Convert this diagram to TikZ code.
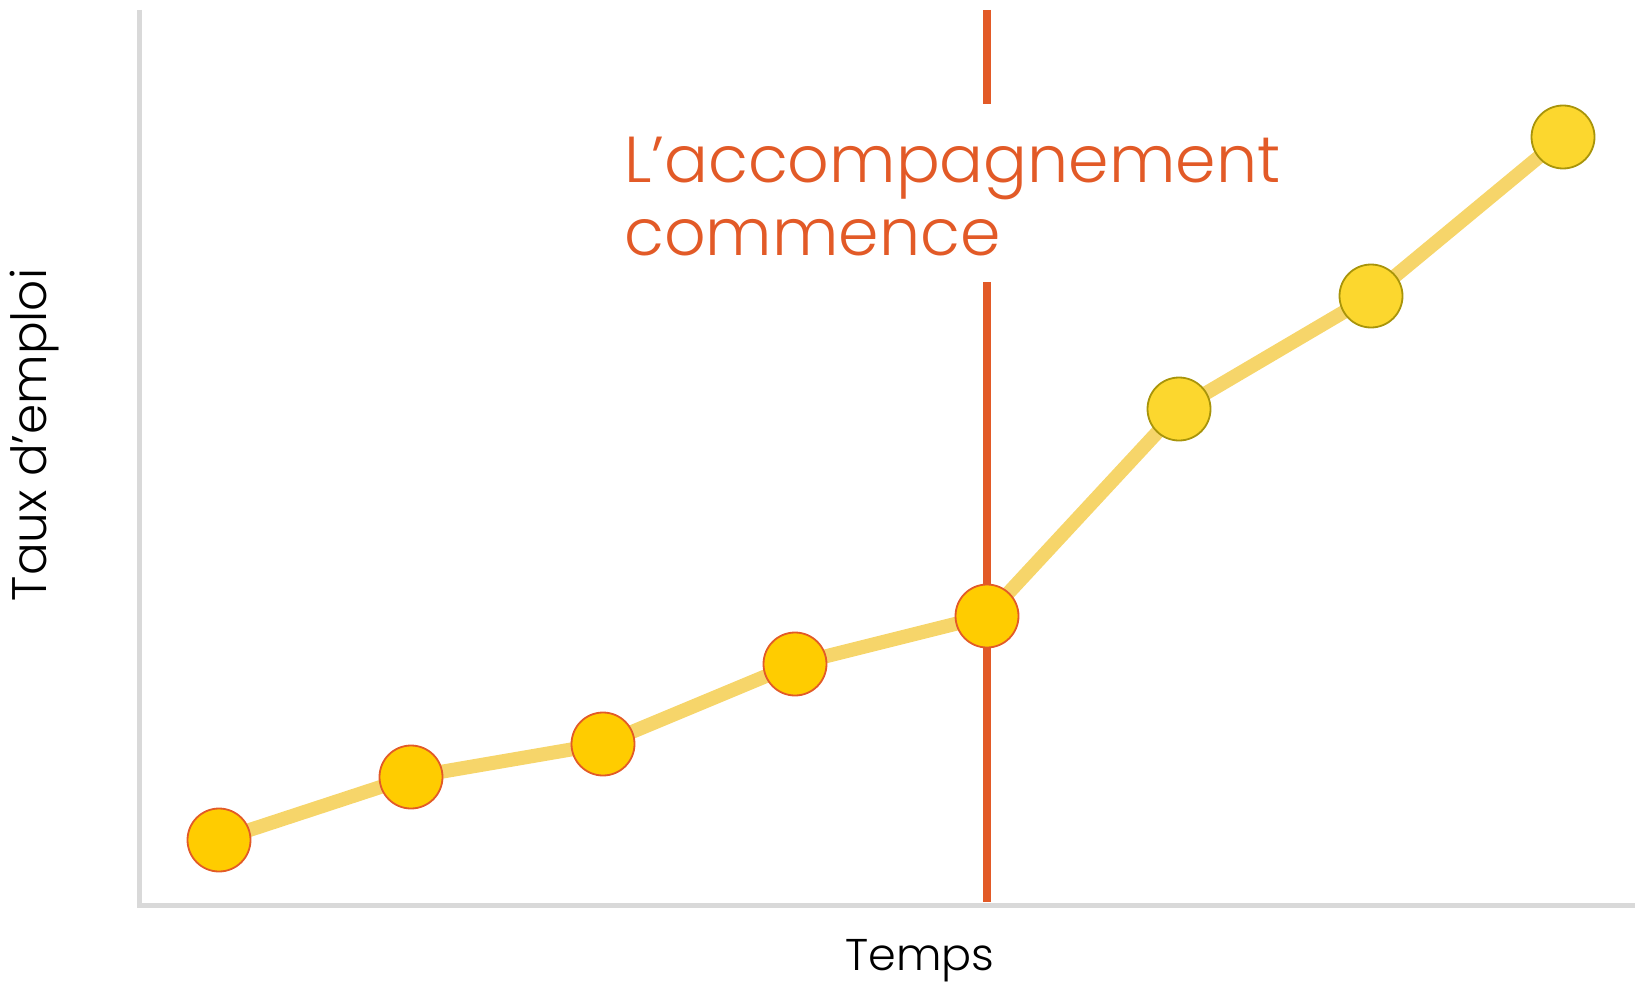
\documentclass[tikz,border=0pt]{standalone}
\usepackage{fontspec}
\setmainfont{Poppins Light}
\usetikzlibrary{positioning,backgrounds}

\definecolor{axisgrey}{HTML}{D9D9D9}
\definecolor{startline}{HTML}{E25A27}
\definecolor{curveyellow}{HTML}{F6D56A}
\definecolor{dotbefore}{HTML}{FFCC00}
\definecolor{dotafter}{HTML}{FCD72E}
\definecolor{dotafterrim}{HTML}{A8940A}

\begin{document}
\begin{tikzpicture}[x=1pt,y=-1pt,
    before/.style={circle,draw=startline,line width=1.8pt,fill=dotbefore,
                   minimum size=63pt,inner sep=0pt},
    after/.style={circle,draw=dotafterrim,line width=1.8pt,fill=dotafter,
                  minimum size=63pt,inner sep=0pt},
    curve/.style={curveyellow,line width=14pt,line join=round},
    axis/.style={axisgrey,line width=5pt},
    startmark/.style={startline,line width=7.5pt}]
%
  \useasboundingbox (0,0) rectangle (1635,987);
%
  \node (d1) [before] at (219,840) {};
  \node (d2) [before] at (411,777) {};
  \node (d3) [before] at (603,744) {};
  \node (d4) [before] at (795,664) {};
  \node (d5) [before] at (987,616) {};
  \node (d6) [after]  at (1179,409) {};
  \node (d7) [after]  at (1371,296) {};
  \node (d8) [after]  at (1563,137) {};
%
  \coordinate (ytop)   at (139,10) ;
  \coordinate (origin) at (139,905) ;
  \coordinate (xend)   at (1635,905) ;
%
  \coordinate (mark top)  at (987,10) ;
  \coordinate (mark gap1) at (987,104) ;
  \coordinate (mark gap2) at (987,282) ;
  \coordinate (mark foot) at (987,902) ;
%
  \node (start label) [anchor=base west,align=left,text=startline,inner sep=0pt,
        font=\fontsize{65}{73}\selectfont] at (624,255)
        {L’accompagnement\\commence} ;
%
  \node (rate label) [rotate=90,font=\fontsize{48.5}{58}\selectfont] at (35,435) {Taux d’emploi} ;
  \node (time label) [anchor=base,inner sep=0pt,font=\fontsize{44.5}{54}\selectfont] at (920,970) {Temps} ;
%
  \begin{scope}[on background layer]
    \draw [axis] (ytop) -- (origin) -- (xend) ;
    \draw [curve] (d1.center) -- (d2.center) -- (d3.center) -- (d4.center)
                  -- (d5.center) -- (d6.center) -- (d7.center) -- (d8.center) ;
    \draw [startmark] (mark top) -- (mark gap1) ;
    \draw [startmark] (mark gap2) -- (mark foot) ;
  \end{scope}
%
\end{tikzpicture}
\end{document}
